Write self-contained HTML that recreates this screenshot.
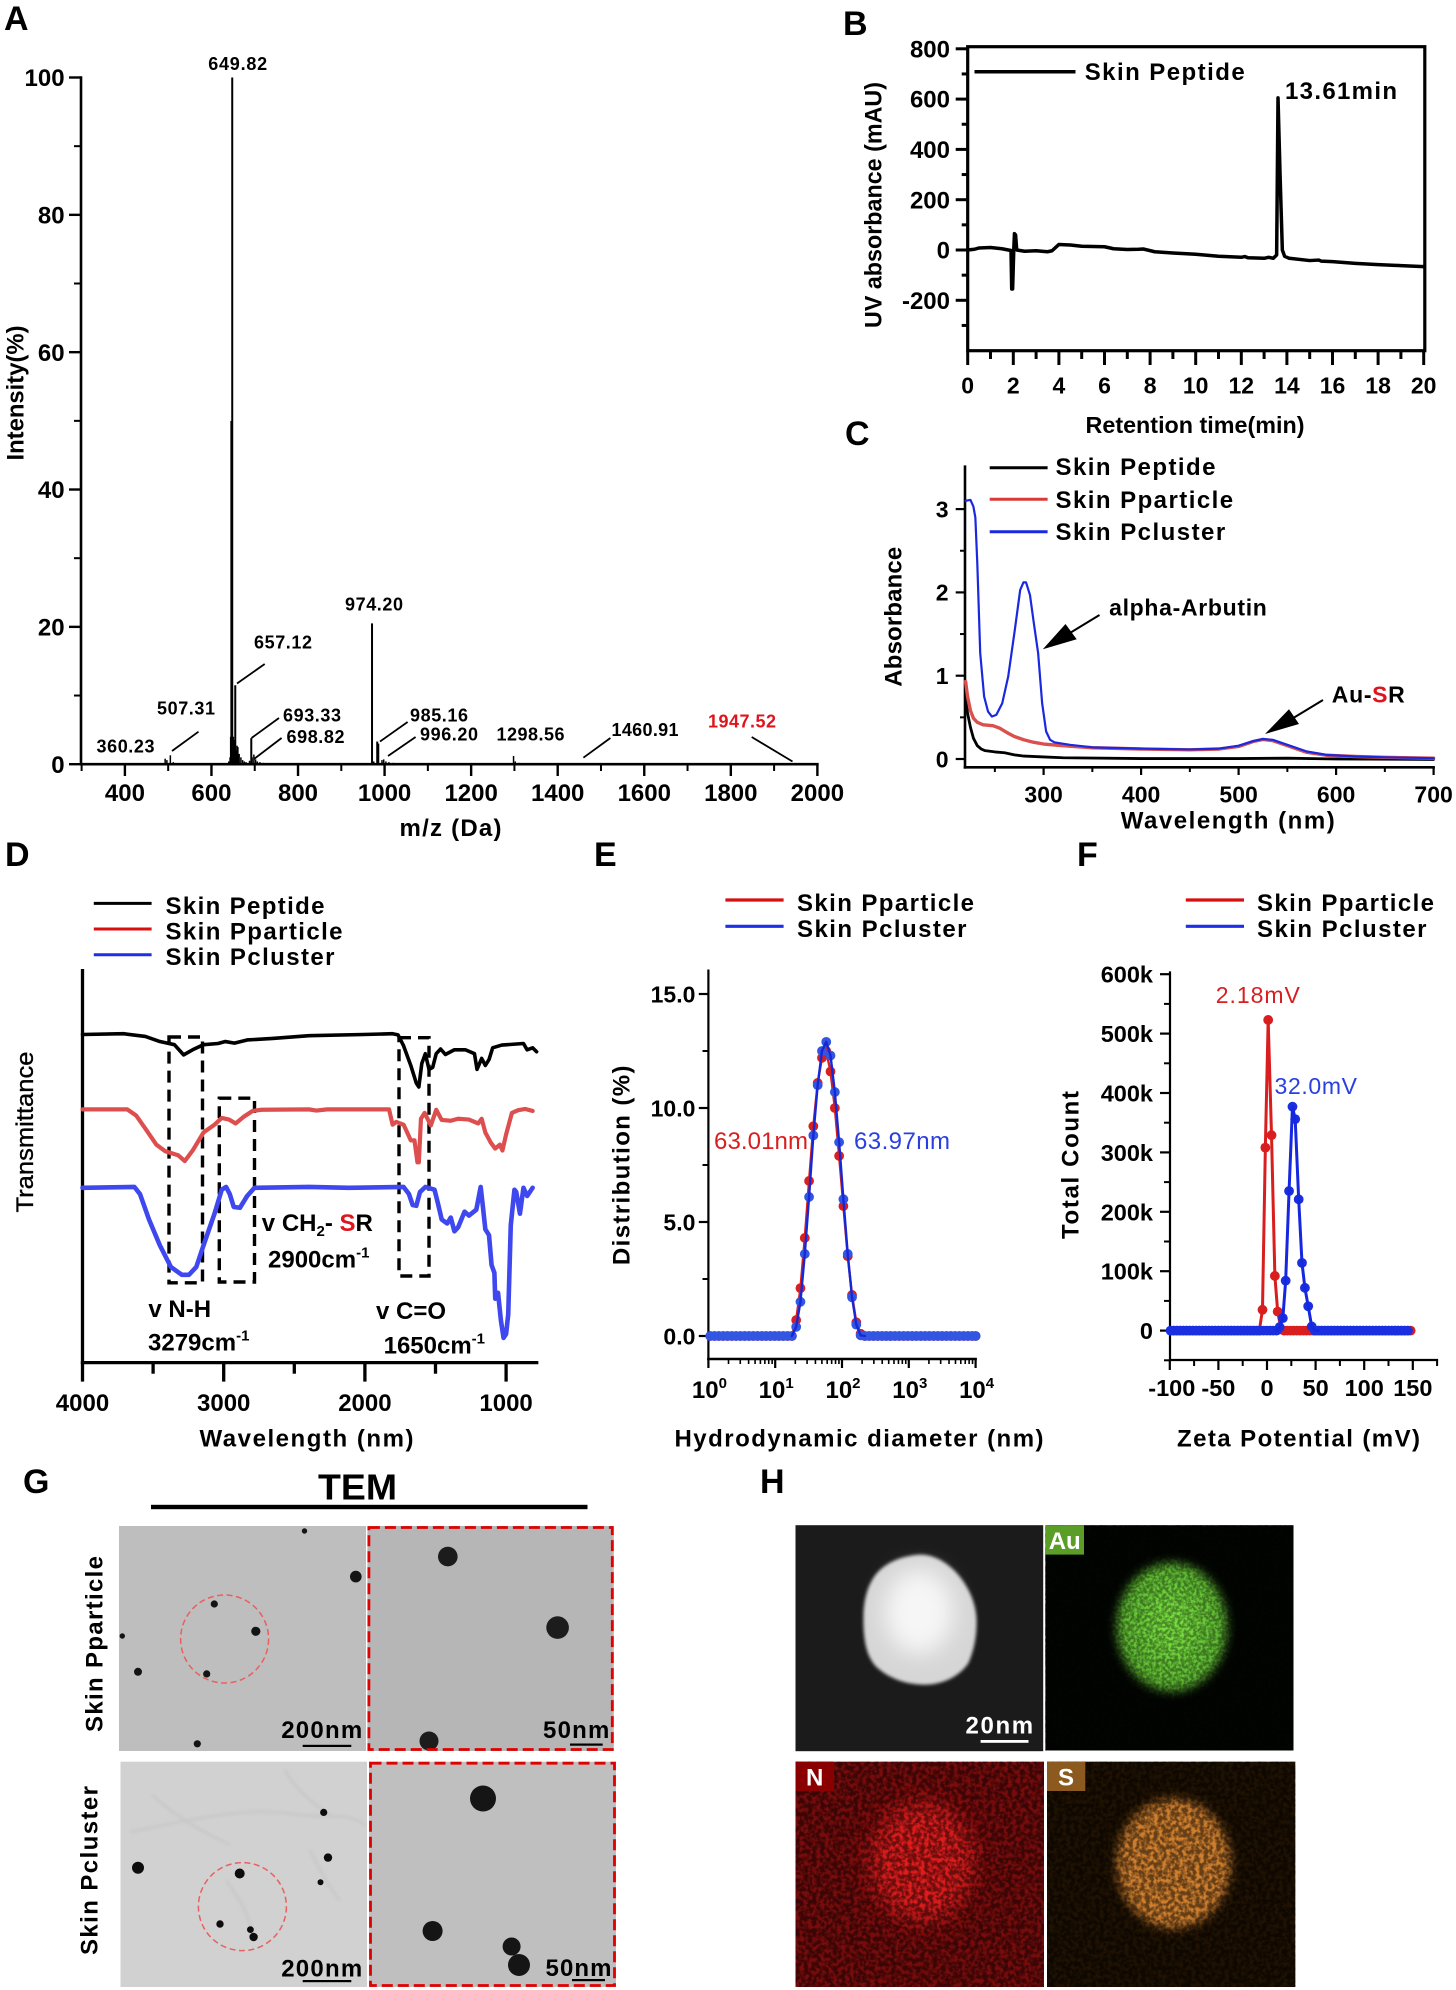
<!DOCTYPE html>
<html lang="en">
<head>
<meta charset="utf-8">
<title>Skin peptide characterization figure</title>
<style>
html,body{margin:0;padding:0;background:#fff;}
svg{display:block;}
text{font-family:"Liberation Sans",Arial,sans-serif;font-weight:bold;fill:#000;}
.reg{font-weight:normal;}
</style>
</head>
<body>
<svg id="figure" width="1456" height="1990" viewBox="0 0 1456 1990">
<defs>
<filter id="blur-soft" x="-30%" y="-30%" width="160%" height="160%"><feGaussianBlur stdDeviation="5"/></filter>
<filter id="blur-wide" x="-50%" y="-50%" width="200%" height="200%"><feGaussianBlur stdDeviation="11"/></filter>
<filter id="blur-line" x="-20%" y="-20%" width="140%" height="140%"><feGaussianBlur stdDeviation="1.6"/></filter>
<filter id="noise-fine" x="0" y="0" width="100%" height="100%"><feTurbulence type="fractalNoise" baseFrequency="0.32" numOctaves="2" seed="4"/><feColorMatrix values="0 0 0 0 0 0 0 0 0 0 0 0 0 0 0 0 0 0 3.4 -1.1"/></filter>
<filter id="noise-coarse" x="0" y="0" width="100%" height="100%"><feTurbulence type="fractalNoise" baseFrequency="0.24" numOctaves="2" seed="9"/><feColorMatrix values="0 0 0 0 0 0 0 0 0 0 0 0 0 0 0 0 0 0 3.6 -1.2"/></filter>
</defs>

<g font-size="34">
<text x="4" y="30">A</text>
<text x="843" y="35">B</text>
<text x="845" y="445">C</text>
<text x="5" y="866">D</text>
<text x="594" y="866">E</text>
<text x="1077" y="866">F</text>
<text x="23" y="1493">G</text>
<text x="760" y="1493">H</text>
</g>

<g id="chart-a">
<text transform="rotate(-90 23.6 393)" x="23.6" y="393" text-anchor="middle" font-size="24" textLength="135" lengthAdjust="spacingAndGlyphs">Intensity(%)</text>
<text x="450.5" y="836" text-anchor="middle" font-size="24" textLength="102" lengthAdjust="spacing">m/z (Da)</text>
<g font-size="18">
<text x="237.7" y="70" text-anchor="middle" textLength="59">649.82</text>
<text x="374" y="610.5" text-anchor="middle" textLength="58">974.20</text>
<text x="283" y="648.5" text-anchor="middle" textLength="58">657.12</text>
<text x="186" y="714.5" text-anchor="middle" textLength="58">507.31</text>
<text x="125.5" y="752.5" text-anchor="middle" textLength="58">360.23</text>
<text x="312" y="721.5" text-anchor="middle" textLength="58">693.33</text>
<text x="315.5" y="743" text-anchor="middle" textLength="58">698.82</text>
<text x="439" y="721.5" text-anchor="middle" textLength="58">985.16</text>
<text x="449" y="740.5" text-anchor="middle" textLength="58">996.20</text>
<text x="530.5" y="740.5" text-anchor="middle" textLength="68">1298.56</text>
<text x="645" y="736" text-anchor="middle" textLength="67">1460.91</text>
<text x="742" y="727.5" text-anchor="middle" textLength="68" style="fill:#e0141c">1947.52</text>
</g>
<g stroke="#000" stroke-width="1.8">
<line x1="172" y1="751" x2="198.5" y2="731.7"/>
<line x1="237" y1="683.5" x2="264.7" y2="664"/>
<line x1="251.5" y1="738" x2="279" y2="718"/>
<line x1="254" y1="759" x2="281.6" y2="738"/>
<line x1="380" y1="741.5" x2="407.6" y2="722"/>
<line x1="388" y1="756" x2="415.6" y2="737"/>
<line x1="583.4" y1="757.7" x2="610.4" y2="738"/>
<line x1="751.7" y1="737" x2="792.5" y2="761.5"/>
</g>
</g>

<g id="chart-b">
<text transform="rotate(-90 881.6 205)" x="881.6" y="205" text-anchor="middle" font-size="24" textLength="246" lengthAdjust="spacingAndGlyphs" class="">UV absorbance (mAU)</text>
<text x="1195" y="433" text-anchor="middle" font-size="23" textLength="219" lengthAdjust="spacingAndGlyphs">Retention time(min)</text>
<line x1="974.5" y1="71.7" x2="1075.5" y2="71.7" stroke="#000" stroke-width="3.5"/>
<text x="1084.7" y="80" font-size="24" textLength="160" lengthAdjust="spacing">Skin Peptide</text>
<text x="1285" y="99" font-size="24" textLength="112" lengthAdjust="spacing">13.61min</text>
</g>

<g id="chart-c">
<text transform="rotate(-90 901.6 616.7)" x="901.6" y="616.7" text-anchor="middle" font-size="24" textLength="140">Absorbance</text>
<text x="1227.7" y="828.6" text-anchor="middle" font-size="24" textLength="214" lengthAdjust="spacing">Wavelength (nm)</text>
<g font-size="24">
<line x1="989.7" y1="467.7" x2="1047.6" y2="467.7" stroke="#000" stroke-width="3"/>
<line x1="989.7" y1="499.3" x2="1047.6" y2="499.3" stroke="#d83a3a" stroke-width="3"/>
<line x1="989.7" y1="531.7" x2="1047.6" y2="531.7" stroke="#1a28e0" stroke-width="3"/>
<text x="1055.5" y="475" textLength="160" lengthAdjust="spacing">Skin Peptide</text>
<text x="1055.5" y="508" textLength="177.6" lengthAdjust="spacing">Skin Pparticle</text>
<text x="1055.5" y="540" textLength="169.7" lengthAdjust="spacing">Skin Pcluster</text>
</g>
<text x="1188" y="615.5" text-anchor="middle" font-size="23" textLength="157.7">alpha-Arbutin</text>
<text x="1331.8" y="702.5" font-size="23" textLength="73">Au-<tspan style="fill:#e0141c">S</tspan>R</text>
<g>
<line x1="1099.5" y1="615" x2="1065" y2="636" stroke="#000" stroke-width="2"/>
<polygon points="1042.8,649.3 1065.5,624 1076.7,639.3" fill="#000"/>
</g>
<g>
<line x1="1323" y1="700" x2="1290" y2="720" stroke="#000" stroke-width="2"/>
<polygon points="1265,734 1289,709.3 1299,724" fill="#000"/>
</g>
</g>

<g id="chart-d">
<text transform="rotate(-90 33 1132)" x="33" y="1132" text-anchor="middle" font-size="24" textLength="161" lengthAdjust="spacingAndGlyphs" style="font-weight:normal;stroke:#000;stroke-width:.35">Transmittance</text>
<text x="306.5" y="1446.4" text-anchor="middle" font-size="24" textLength="214" lengthAdjust="spacing">Wavelength (nm)</text>
<g font-size="24">
<line x1="93.8" y1="903.4" x2="151.6" y2="903.4" stroke="#000" stroke-width="3"/>
<line x1="93.8" y1="929" x2="151.6" y2="929" stroke="#d80f0f" stroke-width="3"/>
<line x1="93.8" y1="954.7" x2="151.6" y2="954.7" stroke="#1f2fe8" stroke-width="3"/>
<text x="165.5" y="914" textLength="159" lengthAdjust="spacing">Skin Peptide</text>
<text x="165.5" y="939.5" textLength="177" lengthAdjust="spacing">Skin Pparticle</text>
<text x="165.5" y="965" textLength="169" lengthAdjust="spacing">Skin Pcluster</text>
</g>
<g fill="none" stroke="#000" stroke-width="3.4" stroke-dasharray="12 7">
<rect x="169" y="1037" width="33.5" height="245.8"/>
<rect x="219.3" y="1098.2" width="35.2" height="183.8"/>
<rect x="399" y="1037.7" width="30" height="238.3"/>
</g>
<g font-size="24">
<text x="261.8" y="1231">v CH<tspan font-size="15" dy="5">2</tspan><tspan dy="-5">- </tspan><tspan style="fill:#e0141c">S</tspan>R</text>
<text x="268" y="1267.5">2900cm<tspan font-size="15" dy="-10">-1</tspan></text>
<text x="148.4" y="1317">v N-H</text>
<text x="148" y="1350.5">3279cm<tspan font-size="15" dy="-10">-1</tspan></text>
<text x="376" y="1319">v C=O</text>
<text x="383.6" y="1353.5">1650cm<tspan font-size="15" dy="-10">-1</tspan></text>
</g>
</g>

<g id="chart-e">
<text transform="rotate(-90 629.4 1165.3)" x="629.4" y="1165.3" text-anchor="middle" font-size="24" textLength="199.6" lengthAdjust="spacing">Distribution (%)</text>
<text x="859" y="1446.4" text-anchor="middle" font-size="24" textLength="369" lengthAdjust="spacing">Hydrodynamic diameter (nm)</text>
<g font-size="24">
<line x1="725.4" y1="900" x2="783.6" y2="900" stroke="#d80f0f" stroke-width="3.2"/>
<line x1="725.4" y1="926.3" x2="783.6" y2="926.3" stroke="#1f2fe8" stroke-width="3.2"/>
<text x="797" y="911" textLength="177" lengthAdjust="spacing">Skin Pparticle</text>
<text x="797" y="937" textLength="169.5" lengthAdjust="spacing">Skin Pcluster</text>
</g>
<text class="reg" x="714" y="1149" font-size="24" textLength="94" style="fill:#d81e1e;font-weight:normal">63.01nm</text>
<text class="reg" x="854" y="1149" font-size="24" textLength="96" style="fill:#2a3fe0;font-weight:normal">63.97nm</text>
</g>

<g id="chart-f">
<text transform="rotate(-90 1078.6 1165)" x="1078.6" y="1165" text-anchor="middle" font-size="24" textLength="148" lengthAdjust="spacing">Total Count</text>
<text x="1298.5" y="1446.4" text-anchor="middle" font-size="24" textLength="243" lengthAdjust="spacing">Zeta Potential (mV)</text>
<g font-size="24">
<line x1="1185.8" y1="900" x2="1244" y2="900" stroke="#d80f0f" stroke-width="3.2"/>
<line x1="1185.8" y1="926.3" x2="1244" y2="926.3" stroke="#1f2fe8" stroke-width="3.2"/>
<text x="1257" y="911" textLength="177" lengthAdjust="spacing">Skin Pparticle</text>
<text x="1257" y="937" textLength="169.5" lengthAdjust="spacing">Skin Pcluster</text>
</g>
<text x="1215.8" y="1003" font-size="23" textLength="84" style="fill:#d81e1e;font-weight:normal">2.18mV</text>
<text x="1274.5" y="1094" font-size="23" textLength="82.5" style="fill:#2a3fe0;font-weight:normal">32.0mV</text>
</g>

<g id="panel-g">
<text x="357.5" y="1499.5" text-anchor="middle" font-size="36" textLength="79" lengthAdjust="spacingAndGlyphs">TEM</text>
<rect x="151" y="1504.8" width="436.5" height="4.4" fill="#000"/>
<text transform="rotate(-90 102.4 1644)" x="102.4" y="1644" text-anchor="middle" font-size="24" textLength="176" lengthAdjust="spacing">Skin Pparticle</text>
<text transform="rotate(-90 97.6 1870.5)" x="97.6" y="1870.5" text-anchor="middle" font-size="24" textLength="169" lengthAdjust="spacing">Skin Pcluster</text>

<g>
<rect x="119" y="1526" width="247" height="225" fill="#bebebe"/>
<g fill="#141414">
<circle cx="304.5" cy="1531" r="2.7"/>
<circle cx="355.8" cy="1576.6" r="5.8"/>
<circle cx="214.3" cy="1604" r="3.6"/>
<circle cx="255.8" cy="1631.3" r="4.6"/>
<circle cx="122.3" cy="1636" r="2.7"/>
<circle cx="138" cy="1671.8" r="4"/>
<circle cx="206.7" cy="1673.9" r="3.6"/>
<circle cx="197.3" cy="1743.8" r="3.6"/>
</g>
<circle cx="224.6" cy="1639" r="44" fill="none" stroke="#e86060" stroke-width="1.5" stroke-dasharray="6 3.5"/>
<text x="321.7" y="1738" text-anchor="middle" font-size="24" textLength="81" lengthAdjust="spacing">200nm</text>
<rect x="302.7" y="1744.8" width="48.6" height="2.2" fill="#000"/>
</g>

<g>
<rect x="367.4" y="1526" width="246.4" height="225" fill="#b6b6b6"/>
<g fill="#1c1c1c">
<circle cx="447.8" cy="1556.6" r="9.8"/>
<circle cx="557.6" cy="1627.6" r="11.3"/>
<circle cx="429" cy="1741" r="9.5"/>
</g>
<rect x="368.9" y="1527.5" width="243.4" height="222" fill="none" stroke="#e00000" stroke-width="2.8" stroke-dasharray="11 5"/>
<text x="576.2" y="1738" text-anchor="middle" font-size="24" textLength="66.4" lengthAdjust="spacing">50nm</text>
<rect x="570" y="1743.5" width="32.7" height="2.2" fill="#000"/>
</g>

<g>
<rect x="120.5" y="1761.7" width="246.5" height="225.3" fill="#d1d1d1"/>
<g fill="none" stroke="#a6a6a6" stroke-width="2" opacity=".28" filter="url(#blur-line)">
<path d="M152 1795 C180 1820 200 1830 230 1845"/>
<path d="M130 1832 C190 1820 250 1805 300 1815 C330 1818 350 1812 366 1826"/>
<path d="M340 1900 C330 1890 320 1870 310 1850"/>
<path d="M226 1880 C240 1900 250 1915 252 1935"/>
<path d="M285 1770 C295 1790 315 1805 330 1815"/>
</g>
<g fill="#0d0d0d">
<circle cx="138" cy="1867.8" r="6"/>
<circle cx="323.7" cy="1812.4" r="3.6"/>
<circle cx="328" cy="1857.6" r="4.2"/>
<circle cx="320.5" cy="1882.3" r="3"/>
<circle cx="239.7" cy="1873.5" r="5"/>
<circle cx="220" cy="1924" r="3.7"/>
<circle cx="250.4" cy="1929.6" r="3.4"/>
<circle cx="253.6" cy="1937" r="4.2"/>
</g>
<circle cx="242.4" cy="1906.6" r="44" fill="none" stroke="#e86060" stroke-width="1.5" stroke-dasharray="6 3.5"/>
<text x="321.7" y="1976.5" text-anchor="middle" font-size="24" textLength="81" lengthAdjust="spacing">200nm</text>
<rect x="302.7" y="1980" width="48.6" height="2.2" fill="#000"/>
</g>

<g>
<rect x="369" y="1761.7" width="247" height="225.3" fill="#bfbfbf"/>
<g fill="#151515">
<circle cx="483" cy="1798.5" r="13"/>
<circle cx="432.6" cy="1931" r="10"/>
<circle cx="511.6" cy="1946.5" r="9"/>
<circle cx="519" cy="1965" r="11"/>
</g>
<rect x="370.5" y="1763.2" width="244" height="222.3" fill="none" stroke="#e00000" stroke-width="2.8" stroke-dasharray="11 5"/>
<text x="578.5" y="1976" text-anchor="middle" font-size="24" textLength="66" lengthAdjust="spacing">50nm</text>
<rect x="572" y="1979" width="33" height="2.2" fill="#000"/>
</g>
</g>

<g id="panel-h">
<g>
<rect x="795.5" y="1525.2" width="247.7" height="226" fill="#1b1b1b"/>
<path d="M919.8 1554.6 C900 1556 885 1563 875.4 1574.9 C866 1588 863.4 1603 863.4 1618.8 C863.4 1640 866 1655 875.4 1666 C888 1678 905 1684.7 924.2 1684.7 C943 1684.7 960 1676 968.6 1662.7 C974 1650 976.6 1637 976.6 1622 C976.6 1603 968 1585 955.3 1571.5 C945 1561 933 1554.6 919.8 1554.6Z" fill="#d6d6d6" filter="url(#blur-line)"/>
<ellipse cx="919" cy="1612" rx="34" ry="42" fill="#f6f6f6" filter="url(#blur-wide)"/>
<text x="999.3" y="1733.5" text-anchor="middle" font-size="24" textLength="67.5" lengthAdjust="spacing" style="fill:#fff">20nm</text>
<rect x="980.6" y="1740" width="47.9" height="2.8" fill="#fff"/>
</g>
<g>
<rect x="1045.4" y="1525.2" width="248.1" height="225.3" fill="#020502"/>
<ellipse cx="1171.9" cy="1627" rx="55" ry="64" fill="#62bf36" filter="url(#blur-soft)"/>
<ellipse cx="1172" cy="1625" rx="28" ry="36" fill="#78e040" filter="url(#blur-wide)"/>
<rect x="1045.4" y="1525.2" width="248.1" height="225.3" filter="url(#noise-fine)" opacity=".38"/>
<rect x="1045.4" y="1525.2" width="38.6" height="29.4" fill="#5a9e28"/>
<text x="1064.7" y="1549" text-anchor="middle" font-size="24" style="fill:#fff">Au</text>
</g>
<g>
<rect x="795.5" y="1761.7" width="248.5" height="225.3" fill="#780c0c"/>
<ellipse cx="922" cy="1862" rx="52" ry="60" fill="#e01c1c" filter="url(#blur-wide)"/>
<rect x="795.5" y="1761.7" width="248.5" height="225.3" filter="url(#noise-coarse)" opacity=".5"/>
<rect x="795.5" y="1761.7" width="38.5" height="29.3" fill="#8a0000"/>
<text x="814.7" y="1785.5" text-anchor="middle" font-size="24" style="fill:#fff">N</text>
</g>
<g>
<rect x="1047" y="1761.7" width="248.3" height="225.3" fill="#1f1203"/>
<ellipse cx="1173.7" cy="1863.7" rx="57" ry="65" fill="#cf7f2e" filter="url(#blur-soft)"/>
<rect x="1047" y="1761.7" width="248.3" height="225.3" filter="url(#noise-coarse)" opacity=".5"/>
<rect x="1047" y="1761.7" width="38.3" height="29.3" fill="#8c5a1e"/>
<text x="1066" y="1785.5" text-anchor="middle" font-size="24" style="fill:#fff">S</text>
</g>
</g>
</svg>

<script>
const NS = document.getElementById('figure').namespaceURI;
function mk(tag, attrs, parent) {
  const el = document.createElementNS(NS, tag);
  for (const k in attrs) el.setAttribute(k, attrs[k]);
  parent.appendChild(el);
  return el;
}
function addTick(parent, x1, y1, x2, y2, w) {
  const el = mk('line', {x1: x1, y1: y1, x2: x2, y2: y2, stroke: '#000', 'stroke-width': w}, parent);
  
  
  return el;
}
function addAxisLine(parent, x1, y1, x2, y2, w) {
  const el = mk('line', {x1: x1, y1: y1, x2: x2, y2: y2, stroke: '#000', 'stroke-width': w, 'stroke-linecap': 'square'}, parent);
  
  
  return el;
}
function addTickLabel(parent, txt, x, yCenter, size, anchor) {
  const el = mk('text', {x: x, y: yCenter + size * 0.36, 'font-size': size, 'text-anchor': anchor}, parent);
  el.textContent = txt;
  
  
  return el;
}
function pathFrom(xs, ys, fx, fy) {
  return xs.map(function (v, i) { return fx(v).toFixed(2) + ',' + fy(ys[i]).toFixed(2); }).join(' ');
}
function addLine(parent, xs, ys, fx, fy, color, width) {
  return mk('polyline', {points: pathFrom(xs, ys, fx, fy), fill: 'none', stroke: color, 'stroke-width': width, 'stroke-linejoin': 'round', 'stroke-linecap': 'round'}, parent);
}
function addMarkers(parent, xs, ys, fx, fy, color, r) {
  xs.forEach(function (v, i) {
    const c = mk('circle', {cx: fx(v).toFixed(2), cy: fy(ys[i]).toFixed(2), r: r, fill: color}, parent);
    
    
  });
}
</script>

<script>
/* Panel A: mass spectrum */
const msMz = [493,497,505,512,520,560,640,643,645,646,648,650,652,655,657,659,661,664,668,672,676,680,688,692,694,698,702,706,712,720,730,760,785,971,975,983,986,994,998,1003,1010,1020,1040,1298,1302,1310,1460];
const msIntensity = [0.8,0.6,1.3,0.3,0.15,0.1,0.4,1,4,50,100,4,3.5,11.5,2,2.7,2.5,1.5,1,0.6,0.4,0.3,0.5,3.8,1,1.4,0.7,0.4,0.3,0.2,0.15,0.1,0.1,20.5,0.4,3.3,3,0.6,0.7,0.4,0.3,0.2,0.1,1.2,0.4,0.2,0.1];
const msXMajor = [400,600,800,1000,1200,1400,1600,1800,2000];
const msXMinor = [300,500,700,900,1100,1300,1500,1700,1900];
const msYMajor = [0,20,40,60,80,100];
const msYMinor = [10,30,50,70,90];
(function () {
  const g = document.getElementById('chart-a');
  const x = function (v) { return 124.9 + (v - 400) * 0.4328; };
  const y = function (v) { return 764.2 - v * 6.867; };
  addAxisLine(g, 81, y(0), 81, y(100), 2.6);
  addAxisLine(g, x(300), y(0), x(2000), y(0), 2.6);
  msXMajor.forEach(function (v) {
    addTick(g, x(v), y(0), x(v), 776, 2.4);
    addTickLabel(g, v, x(v), 792.4, 24, 'middle');
  });
  msXMinor.forEach(function (v) { addTick(g, x(v), y(0), x(v), 771, 2); });
  msYMajor.forEach(function (v) {
    addTick(g, 69, y(v), 81, y(v), 2.4);
    addTickLabel(g, v, 64.6, y(v), 24, 'end');
  });
  msYMinor.forEach(function (v) { addTick(g, 74, y(v), 81, y(v), 2); });
  msMz.forEach(function (m, i) {
    const bar = mk('line', {x1: x(m), y1: y(0), x2: x(m), y2: y(msIntensity[i]), stroke: '#000', 'stroke-width': msIntensity[i] > 3 ? 2 : 1.5}, g);
    
    
  });
})();
</script>

<script>
/* Panel B: HPLC trace */
const hplcTime = [0,0.3,0.5,1,1.5,1.9,1.93,1.97,2.02,2.05,2.1,2.15,2.5,3,3.5,3.7,4,4.5,5,6,6.4,7,7.5,7.7,8.2,9,10,11,12,12.15,12.3,13,13.2,13.4,13.55,13.61,13.7,13.8,13.9,14.1,15,15.4,15.5,16,17,18,19,20];
const hplcSignal = [0,3,8,10,5,-2,-155,-155,0,65,60,0,-5,-3,-7,-3,22,20,15,13,5,2,3,4,-7,-12,-17,-25,-29,-26,-31,-33,-29,-33,-20,605,300,0,-25,-33,-42,-40,-44,-46,-53,-58,-62,-66];
const hplcXMajor = [0,2,4,6,8,10,12,14,16,18,20];
const hplcXMinor = [1,3,5,7,9,11,13,15,17,19];
const hplcYMajor = [-200,0,200,400,600,800];
const hplcYMinor = [-300,-100,100,300,500,700];
(function () {
  const g = document.getElementById('chart-b');
  const x = function (v) { return 967.7 + v * 22.8; };
  const y = function (v) { return 250 - v * 0.2515; };
  const box = mk('rect', {x: 967.7, y: 46.7, width: 457.1, height: 304, fill: 'none', stroke: '#000', 'stroke-width': 3.2}, g);
  
  
  hplcXMajor.forEach(function (v) {
    addTick(g, x(v), 350.7, x(v), 365, 3);
    addTickLabel(g, v, x(v), 385, 23, 'middle');
  });
  hplcXMinor.forEach(function (v) { addTick(g, x(v), 350.7, x(v), 359, 3); });
  hplcYMajor.forEach(function (v) {
    addTick(g, 955.7, y(v), 967.7, y(v), 3);
    addTickLabel(g, v, 950, y(v), 24, 'end');
  });
  hplcYMinor.forEach(function (v) { addTick(g, 961.7, y(v), 967.7, y(v), 3); });
  const trace = addLine(g, hplcTime, hplcSignal, x, y, '#000', 3.5);
  
  
})();
</script>

<script>
/* Panel C: UV-vis spectra */
const uvBlackNm = [220,222,225,228,232,236,240,250,260,270,280,300,320,400,500,550,600,700];
const uvBlackAbs = [0.75,0.55,0.38,0.25,0.16,0.12,0.1,0.085,0.075,0.05,0.035,0.025,0.015,0.005,0.005,0.01,0,-0.005];
const uvRedNm = [220,222,225,228,232,238,248,255,262,270,280,290,300,320,350,400,450,480,500,515,525,535,550,570,590,620,650,700];
const uvRedAbs = [0.93,0.75,0.58,0.49,0.44,0.41,0.4,0.37,0.32,0.27,0.23,0.2,0.18,0.16,0.135,0.12,0.11,0.12,0.15,0.21,0.235,0.22,0.16,0.08,0.045,0.03,0.02,0.01];
const uvBlueNm = [220,225,228,230,232,235,239,243,247,251.5,257.6,263.7,270,276,279.3,282,286,290,294.4,298.5,302.6,306.7,311,327,350,400,450,480,500,515,525,535,550,570,590,620,650,700];
const uvBlueAbs = [3.1,3.11,3.03,2.9,2.35,1.27,0.75,0.57,0.51,0.53,0.67,0.99,1.51,2.03,2.12,2.12,1.97,1.63,1.27,0.67,0.33,0.23,0.2,0.17,0.14,0.125,0.115,0.125,0.16,0.215,0.24,0.23,0.17,0.09,0.05,0.03,0.02,0.01];
const uvXMajor = [300,400,500,600,700];
const uvXMinor = [250,350,450,550,650];
const uvYMajor = [0,1,2,3];
const uvYMinor = [0.5,1.5,2.5];
(function () {
  const g = document.getElementById('chart-c');
  const x = function (v) { return 1043.6 + (v - 300) * 0.975; };
  const y = function (v) { return 759 - v * 83.3; };
  addAxisLine(g, 965, 466.7, 965, 767.3, 2.6);
  addAxisLine(g, 965, 767.3, x(700), 767.3, 2.6);
  uvXMajor.forEach(function (v) {
    addTick(g, x(v), 767.3, x(v), 775, 2.2);
    addTickLabel(g, v, x(v), 794, 23, 'middle');
  });
  uvXMinor.forEach(function (v) { addTick(g, x(v), 767.3, x(v), 772, 2); });
  uvYMajor.forEach(function (v) {
    addTick(g, 955.7, y(v), 965, y(v), 2.2);
    addTickLabel(g, v, 948.6, y(v), 23, 'end');
  });
  uvYMinor.forEach(function (v) { addTick(g, 960, y(v), 965, y(v), 2); });
  const black = addLine(g, uvBlackNm, uvBlackAbs, x, y, '#000', 2.8);
  
  
  const red = addLine(g, uvRedNm, uvRedAbs, x, y, '#d9504c', 3.4);
  
  
  const blue = addLine(g, uvBlueNm, uvBlueAbs, x, y, '#1a28e0', 2.2);
  
  
})();
</script>

<script>
/* Panel D: FTIR spectra */
const irBlackWave = [4000,3709,3555,3452,3349,3284,3220,3143,3040,2988,2924,2834,2653,2396,2010,1804,1765,1726,1675,1636,1618,1597,1572,1546,1520,1495,1464,1430,1366,1289,1224,1206,1173,1147,1121,1095,1031,877,851,812,784];
const irBlackT = [83.7,83.9,83.2,81.9,81.1,78.5,79.8,81.1,81.4,81.9,81.5,82.3,82.7,83.4,83.7,83.9,83.6,80.8,75.8,71.3,70.3,76.3,78.8,74.8,75.3,78.8,80,78.6,79.8,79.8,78.8,74.8,77.6,75.8,77.3,80.3,81,81.4,79.8,80.3,79.3];
const irRedWave = [4000,3683,3619,3555,3477,3413,3323,3276,3220,3143,3065,3014,2962,2916,2859,2795,2731,2396,2344,2267,1829,1804,1778,1726,1675,1649,1628,1618,1603,1577,1533,1495,1456,1392,1340,1263,1198,1173,1147,1108,1077,1044,1026,1000,959,915,864,812];
const irRedT = [64.6,64.6,63,59.7,55.6,53.9,52.9,51.4,54.1,58.7,60.7,62.4,62,61,62.7,64.2,64.5,64.6,64.3,64.6,64.6,60.7,61.4,60.7,56.7,56.7,51.1,51.1,62.2,63.7,60.5,64.5,61.9,61.7,62.2,62,61,62.2,58.7,56.1,54.6,55.6,54.1,58.2,63.7,64.4,64.7,64.2];
const irBlueWave = [4000,3632,3593,3529,3452,3374,3297,3246,3194,3143,3065,3014,2983,2957,2929,2885,2834,2782,2396,2113,1726,1688,1662,1636,1610,1572,1507,1482,1456,1417,1392,1366,1340,1294,1263,1211,1180,1165,1147,1121,1103,1083,1077,1057,1037,1018,1000,985,967,941,928,902,877,851,812];
const irBlueT = [44.6,44.8,43,36.5,29.9,24.4,22.4,22.4,24.4,29.9,38,44.1,44.8,43,39.7,39.5,42.5,44.6,44.8,44.6,44.8,43,40.2,40,43.5,44.8,44.1,40.5,36.5,35.5,37,33.5,34.5,38.5,37.5,39,44.8,40,34,32.5,24.9,22.9,16.3,17.8,10.8,6.3,7.3,12.3,35,44.1,43.5,38,44.6,42.5,44.6];
const irXMajor = [4000,3000,2000,1000];
const irXMinor = [3500,2500,1500];
(function () {
  const g = document.getElementById('chart-d');
  const x = function (v) { return 82.5 + (4000 - v) * 0.1412; };
  const y = function (v) { return 1362.6 - v * 3.92; };
  addAxisLine(g, 82.5, 970.6, 82.5, 1362.6, 3.3);
  addAxisLine(g, 82.5, 1362.6, 536.7, 1362.6, 3.3);
  irXMajor.forEach(function (v) {
    addTick(g, x(v), 1362.6, x(v), 1381.6, 3.3);
    addTickLabel(g, v, x(v), 1402.6, 24, 'middle');
  });
  irXMinor.forEach(function (v) { addTick(g, x(v), 1362.6, x(v), 1373.7, 3.3); });
  const black = addLine(g, irBlackWave, irBlackT, x, y, '#000', 3.6);
  
  
  const red = addLine(g, irRedWave, irRedT, x, y, '#dd4f4f', 4.2);
  
  
  const blue = addLine(g, irBlueWave, irBlueT, x, y, '#3f48ee', 4.6);
  
  
})();
</script>

<script>
/* Panel E: DLS size distribution */
const dlsLogDiameter = [0.028,0.092,0.157,0.221,0.285,0.350,0.414,0.478,0.542,0.607,0.671,0.735,0.800,0.864,0.928,0.993,1.057,1.121,1.185,1.250,1.314,1.378,1.443,1.507,1.571,1.636,1.700,1.764,1.828,1.893,1.957,2.021,2.086,2.150,2.214,2.279,2.343,2.407,2.471,2.536,2.600,2.664,2.729,2.793,2.857,2.922,2.986,3.050,3.114,3.179,3.243,3.307,3.372,3.436,3.500,3.565,3.629,3.693,3.757,3.822,3.886,3.950,4.000];
const dlsRed = [0,0,0,0,0,0,0,0,0,0,0,0,0,0,0,0,0,0,0,0,0.7,2.1,4.3,6.8,9.2,11.1,12.2,12.5,11.6,10,7.9,5.7,3.5,1.8,0.6,0.1,0,0,0,0,0,0,0,0,0,0,0,0,0,0,0,0,0,0,0,0,0,0,0,0,0,0,0];
const dlsBlue = [0,0,0,0,0,0,0,0,0,0,0,0,0,0,0,0,0,0,0,0,0.4,1.5,3.6,6.1,8.8,11,12.5,12.9,12.3,10.7,8.5,6,3.6,1.7,0.5,0.03,0,0,0,0,0,0,0,0,0,0,0,0,0,0,0,0,0,0,0,0,0,0,0,0,0,0,0];
const dlsXDecades = [0,1,2,3,4];
const dlsXMinorMultipliers = [2,3,4,5,6,7,8,9];
const dlsYMajor = [0,5,10,15];
const dlsYLabels = ['0.0','5.0','10.0','15.0'];
const dlsYMinor = [2.5,7.5,12.5];
(function () {
  const g = document.getElementById('chart-e');
  const x = function (v) { return 708.4 + v * 66.8; };
  const y = function (v) { return 1336 - v * 22.8; };
  addAxisLine(g, 708.4, 970.6, 708.4, 1359, 2.2);
  addAxisLine(g, 708.4, 1359, x(4), 1359, 2.6);
  dlsXDecades.forEach(function (d) {
    addTick(g, x(d), 1359, x(d), 1368, 2.2);
    const lab = mk('text', {x: x(d) + 1, y: 1398, 'font-size': 24, 'text-anchor': 'middle'}, g);
    
    
    lab.appendChild(document.createTextNode('10'));
    const sup = mk('tspan', {'font-size': 15, dy: -10}, lab);
    sup.textContent = d;
    if (d < 4) {
      dlsXMinorMultipliers.forEach(function (m) {
        addTick(g, x(d + Math.log10(m)), 1359, x(d + Math.log10(m)), 1364, 1.6);
      });
    }
  });
  dlsYMajor.forEach(function (v, i) {
    addTick(g, 698.8, y(v), 708.4, y(v), 2.2);
    addTickLabel(g, dlsYLabels[i], 695.4, y(v), 23, 'end');
  });
  dlsYMinor.forEach(function (v) { addTick(g, 702.5, y(v), 708.4, y(v), 2); });
  const rm = mk('g', {}, g);
  
  
  addMarkers(rm, dlsLogDiameter, dlsRed, x, y, '#d82020', 4.9);
  const red = addLine(g, dlsLogDiameter.slice(19, 37), dlsRed.slice(19, 37), x, y, '#d81e1e', 2.4);
  
  
  const bm = mk('g', {}, g);
  
  
  addMarkers(bm, dlsLogDiameter, dlsBlue, x, y, '#3356e2', 4.9);
  const blue = addLine(g, dlsLogDiameter.slice(19, 37), dlsBlue.slice(19, 37), x, y, '#1528d8', 2.4);
  
  
})();
</script>

<script>
/* Panel F: zeta potential */
const zetaRedMv = [-98.9,-95.65,-92.4,-89.15,-85.9,-82.65,-79.4,-76.15,-72.9,-69.65,-66.4,-63.15,-59.9,-56.65,-53.4,-50.15,-46.9,-43.65,-40.4,-37.15,-33.9,-30.65,-27.4,-24.15,-20.9,-17.65,-14.4,-11.15,-7.9,-4.65,-1.7,1.2,4.65,8.1,11,14.5,17.75,21,24.25,27.5,30.75,34,37.25,40.5,43.75,47,50.25,53.5,56.75,60,63.25,66.5,69.75,73,76.25,79.5,82.75,86,89.25,92.5,95.75,99,102.25,105.5,108.75,112,115.25,118.5,121.75,125,128.25,131.5,134.75,138,141.25,144.5,147.75];
const zetaRedCount = [0,0,0,0,0,0,0,0,0,0,0,0,0,0,0,0,0,0,0,0,0,0,0,0,0,0,0,0,0,35,308,523,329,92,32,2,0,0,0,0,0,0,0,0,0,0,0,0,0,0,0,0,0,0,0,0,0,0,0,0,0,0,0,0,0,0,0,0,0,0,0,0,0,0,0,0,0];
const zetaBlueMv = [-99.2,-95.9,-92.6,-89.3,-86,-82.7,-79.4,-76.1,-72.8,-69.5,-66.2,-62.9,-59.6,-56.3,-53,-49.7,-46.4,-43.1,-39.8,-36.5,-33.2,-29.9,-26.6,-23.3,-20,-16.7,-13.4,-10.1,-6.8,-3.5,-0.2,3.1,6.4,9.7,13,16.3,19.2,22.7,26.2,29,32.6,36,39,42.4,46,49.3,52.6,55.9,59.2,62.5,65.8,69.1,72.4,75.7,79,82.3,85.6,88.9,92.2,95.5,98.8,102.1,105.4,108.7,112,115.3,118.6,121.9,125.2,128.5,131.8,135.1,138.4,141.7,145];
const zetaBlueCount = [0,0,0,0,0,0,0,0,0,0,0,0,0,0,0,0,0,0,0,0,0,0,0,0,0,0,0,0,0,0,0,0,0,0,6,21,84,235,377,356,221,114,72,41,7,0,0,0,0,0,0,0,0,0,0,0,0,0,0,0,0,0,0,0,0,0,0,0,0,0,0,0,0,0,0];
const zetaXMajor = [-100,-50,0,50,100,150];
const zetaXMinor = [-75,-25,25,75,125,175];
const zetaYMajor = [0,100,200,300,400,500,600];
const zetaYLabels = ['0','100k','200k','300k','400k','500k','600k'];
const zetaYMinor = [-50,50,150,250,350,450,550];
(function () {
  const g = document.getElementById('chart-f');
  const x = function (v) { return 1267 + v * 0.972; };
  const y = function (v) { return 1330.6 - v * 0.594; };
  addAxisLine(g, 1170, 972.5, 1170, 1360, 2.2);
  addAxisLine(g, 1170, 1360, 1437, 1360, 2.2);
  zetaXMajor.forEach(function (v) {
    addTick(g, x(v), 1360, x(v), 1370, 2.2);
    addTickLabel(g, v, x(v) + (v === -100 ? 2 : 0), 1387.5, 23.5, 'middle');
  });
  zetaXMinor.forEach(function (v) { addTick(g, x(v), 1360, x(v), 1366, 2); });
  zetaYMajor.forEach(function (v, i) {
    addTick(g, 1160, y(v), 1170, y(v), 2.2);
    addTickLabel(g, zetaYLabels[i], 1153, y(v), 23.5, 'end');
  });
  zetaYMinor.forEach(function (v) { addTick(g, 1164, y(v), 1170, y(v), 2); });
  const rm = mk('g', {}, g);
  
  
  addMarkers(rm, zetaRedMv, zetaRedCount, x, y, '#d81e1e', 4.9);
  const red = addLine(g, zetaRedMv.slice(28, 38), zetaRedCount.slice(28, 38), x, y, '#d81e1e', 3);
  
  
  const bm = mk('g', {}, g);
  
  
  addMarkers(bm, zetaBlueMv, zetaBlueCount, x, y, '#1a2fe0', 4.9);
  const blue = addLine(g, zetaBlueMv.slice(33, 47), zetaBlueCount.slice(33, 47), x, y, '#1528e0', 3);
  
  
})();
</script>
</body>
</html>
